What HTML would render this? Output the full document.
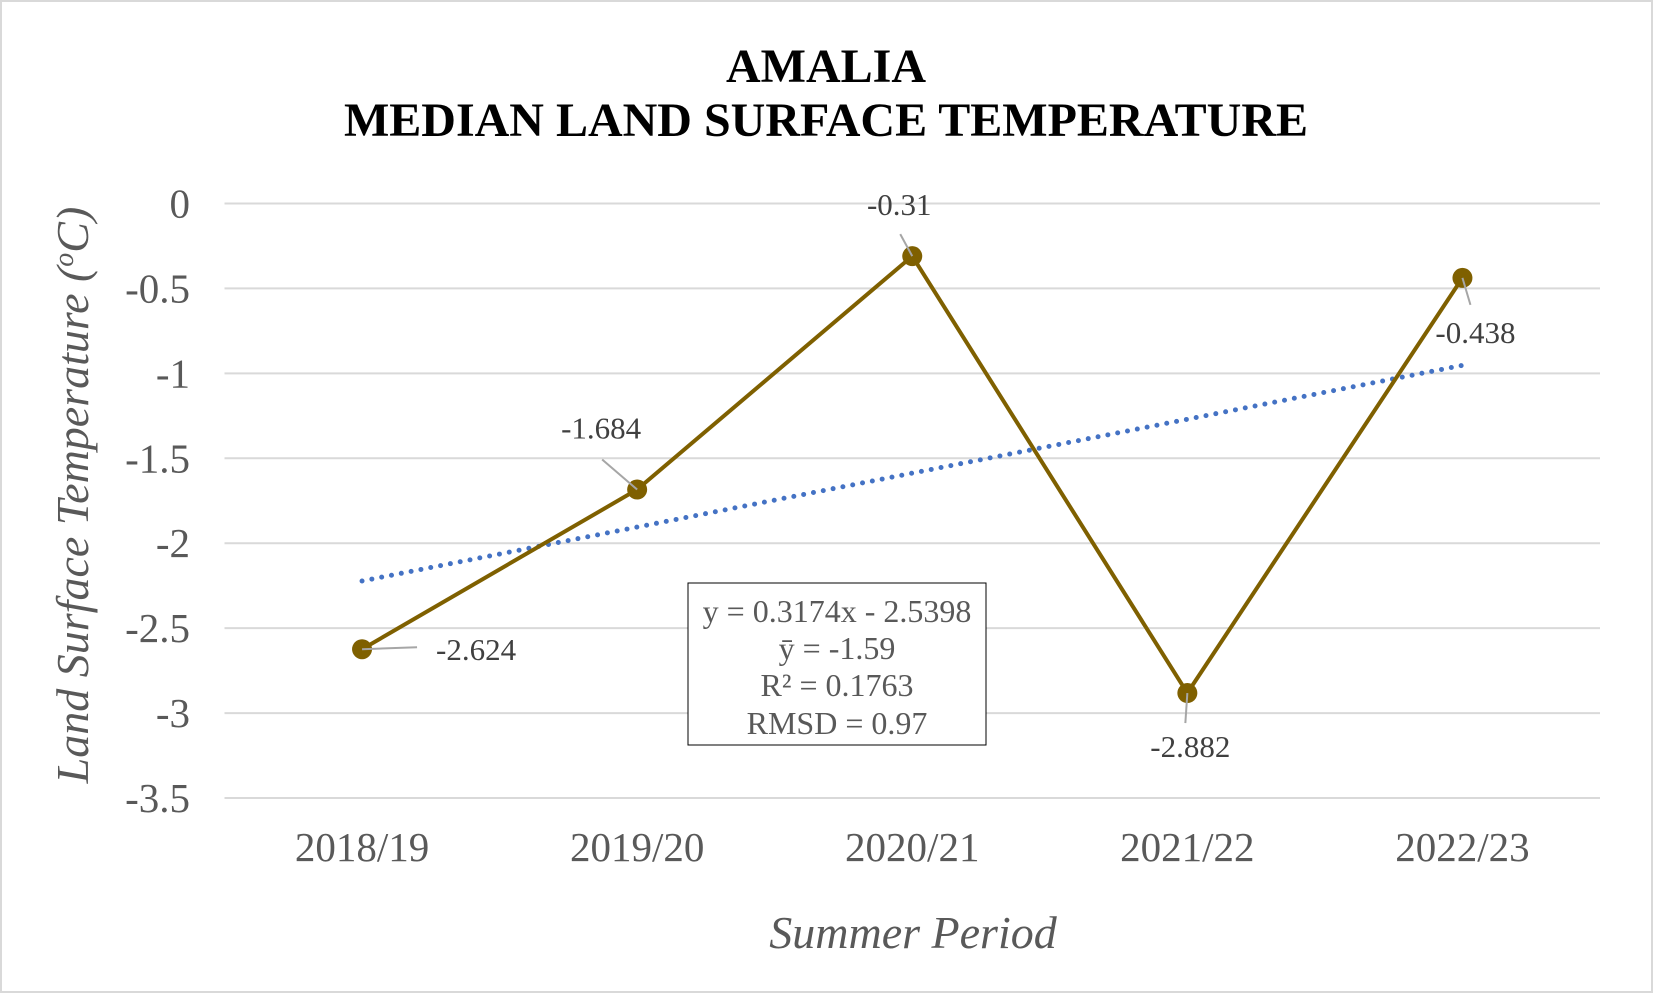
<!DOCTYPE html>
<html><head><meta charset="utf-8"><style>
html,body{margin:0;padding:0;background:#fff}
svg{display:block;font-family:"Liberation Serif",serif}
</style></head><body>
<svg id="chart" width="1653" height="993" viewBox="0 0 1653 993">
<rect x="1" y="1" width="1651" height="991" fill="#fff" stroke="#d9d9d9" stroke-width="2"/>
<text x="826" y="82" text-anchor="middle" font-size="48" font-weight="bold" fill="#000">AMALIA</text>
<text x="826" y="136" text-anchor="middle" font-size="48" font-weight="bold" fill="#000">MEDIAN LAND SURFACE TEMPERATURE</text>
<g id="grid"></g><g id="yticks"></g><g id="xticks"></g><g id="trend"></g><g id="series"></g><g id="labels"></g>
<text transform="translate(88,495) rotate(-90)" text-anchor="middle" font-size="46" font-style="italic" fill="#595959">Land Surface Temperature (<tspan baseline-shift="super" font-size="28">o</tspan>C)</text>
<text x="913" y="948" text-anchor="middle" font-size="46" font-style="italic" fill="#595959">Summer Period</text>
<g>
<rect x="688" y="583" width="298" height="162" fill="#fff" stroke="#000" stroke-width="1"/>
<text x="837" y="622" text-anchor="middle" font-size="32" fill="#595959">y = 0.3174x - 2.5398</text>
<text x="837" y="659" text-anchor="middle" font-size="32" fill="#595959">ȳ = -1.59</text>
<text x="837" y="696" text-anchor="middle" font-size="32" fill="#595959">R² = 0.1763</text>
<text x="837" y="734" text-anchor="middle" font-size="32" fill="#595959">RMSD = 0.97</text>
</g>
</svg>
<script>
const categories=["2018/19","2019/20","2020/21","2021/22","2022/23"];
const values=[-2.624,-1.684,-0.31,-2.882,-0.438];
const yTicks=[0,-0.5,-1,-1.5,-2,-2.5,-3,-3.5];
const trendSlope=0.3174;
const trendIntercept=-2.5398;
const NS="http://www.w3.org/2000/svg";
const L=224.5,R=1600,T=203.5,B=798,yMax=0,yMin=-3.5;
const xs=i=>L+(R-L)/categories.length*(i+0.5);
const ys=v=>T+(yMax-v)/(yMax-yMin)*(B-T);
function mk(tag,attrs,parent){const e=document.createElementNS(NS,tag);for(const k in attrs)e.setAttribute(k,attrs[k]);document.getElementById(parent).appendChild(e);return e;}
yTicks.forEach(t=>{
 const g=mk("line",{x1:L,x2:R,y1:ys(t),y2:ys(t),stroke:"#d9d9d9","stroke-width":2},"grid");
 
 
 const tx=mk("text",{x:190,y:ys(t)+14,"text-anchor":"end","font-size":41,fill:"#595959"},"yticks");
 tx.textContent=String(t);
 
 
});
categories.forEach((c,i)=>{
 const tx=mk("text",{x:xs(i),y:861,"text-anchor":"middle","font-size":41,fill:"#595959"},"xticks");
 tx.textContent=c;
 
 
});
const tl=mk("line",{x1:xs(0),y1:ys(trendSlope*1+trendIntercept),x2:xs(4),y2:ys(trendSlope*5+trendIntercept),stroke:"#4472c4","stroke-width":5,"stroke-dasharray":"0 10","stroke-linecap":"round"},"trend");


const pl=mk("polyline",{points:values.map((v,i)=>xs(i)+","+ys(v)).join(" "),fill:"none",stroke:"#7f6000","stroke-width":4},"series");


values.forEach((v,i)=>{
 const c=mk("circle",{cx:xs(i),cy:ys(v),r:10,fill:"#7f6000"},"series");
 
 
});
// label offsets (dx, dy relative to point)
const labOff=[[114,38],[-36,-24],[-13,-14],[3,91],[13,92]];
const leadEnd=[[55,-2],[-35,-30],[-12,-22],[-2,30],[8,27]];
values.forEach((v,i)=>{
 const x=xs(i),y=ys(v);
 const ln=mk("line",{x1:x,y1:y,x2:x+leadEnd[i][0],y2:y+leadEnd[i][1],stroke:"#a6a6a6","stroke-width":2},"labels");
 
 
 const t=mk("text",{x:x+labOff[i][0],y:y+labOff[i][1]-27,"text-anchor":"middle","font-size":31,fill:"#404040"},"labels");
 t.textContent=String(v);
 
 
});
</script>
</body></html>
